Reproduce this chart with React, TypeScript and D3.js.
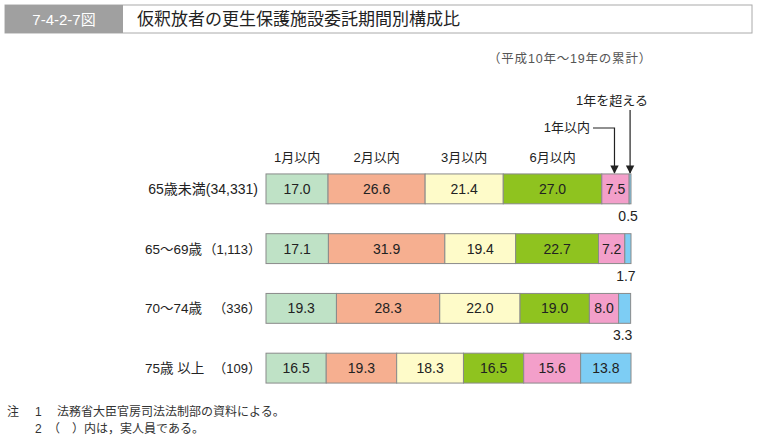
import { useMemo } from "react";
import * as d3 from "d3";

const figNo = "7-4-2-7図";
const title = "仮釈放者の更生保護施設委託期間別構成比";
const subtitle = "（平成10年〜19年の累計）";

const periods = ["1月以内", "2月以内", "3月以内", "6月以内", "1年以内", "1年を超える"];
const colors = ["#bfe2c6", "#f6af90", "#fefbc9", "#8fc31f", "#f39fca", "#7dcdf4"];

const groups = ["65歳未満", "65〜69歳", "70〜74歳", "75歳 以上"];
const counts = ["(34,331)", "（1,113）", "（336）", "（109）"];

const row1 = [17.0, 26.6, 21.4, 27.0, 7.5, 0.5];
const row2 = [17.1, 31.9, 19.4, 22.7, 7.2, 1.7];
const row3 = [19.3, 28.3, 22.0, 19.0, 8.0, 3.3];
const row4 = [16.5, 19.3, 18.3, 16.5, 15.6, 13.8];
const rows = [row1, row2, row3, row4];

const notes = ["法務省大臣官房司法法制部の資料による。", "（　）内は，実人員である。"];

const W = 758;
const H = 441;
const font = "'Liberation Sans', 'Noto Sans CJK JP', sans-serif";

export default function App() {
  const x = useMemo(() => d3.scaleLinear().domain([0, 100]).range([266, 631]), []);
  const y = useMemo(
    () => d3.scaleBand<number>().domain(d3.range(rows.length)).range([159, 398]).paddingInner(0.5).paddingOuter(0.25),
    []
  );
  const bh = y.bandwidth();

  const stacks = rows.map((r) => {
    let acc = 0;
    return r.map((v) => {
      const s = acc;
      acc += v;
      return [s, acc];
    });
  });

  // arrows for the two small categories, top row
  const seg5 = stacks[0][4];
  const seg6 = stacks[0][5];
  const ax5 = (x(seg5[0]) + x(seg5[1])) / 2 - 1;
  const ax6 = (x(seg6[0]) + x(seg6[1])) / 2;
  const barTop = y(0)!;

  return (
    <svg width={W} height={H} style={{ position: "absolute", left: 0, top: 0, background: "#fff" }} fontFamily={font}>
      <defs>
        <marker id="ah" viewBox="0 0 10 10" refX="9" refY="5" markerWidth="7" markerHeight="9" orient="auto">
          <path d="M0,0 L10,5 L0,10 z" fill="#222" />
        </marker>
      </defs>

      {/* header */}
      <rect x={5} y={5} width={747} height={28} fill="#fff" stroke="#aaa" strokeWidth={1} />
      <rect x={5} y={5} width={118} height={28} fill="#a0a0a0" />
      <text x={64} y={25} textAnchor="middle" fill="#fff" fontSize={15}>
        {figNo}
      </text>
      <text x={137} y={25} fill="#222" fontSize={17}>
        {title}
      </text>
      <text x={652} y={63} textAnchor="end" fill="#555" fontSize={12.5} letterSpacing={0.8}>
        {subtitle}
      </text>

      {/* period labels above top row */}
      {periods.slice(0, 4).map((p, i) => (
        <text
          key={p}
          x={(x(stacks[0][i][0]) + x(stacks[0][i][1])) / 2}
          y={162}
          textAnchor="middle"
          fontSize={13}
          fill="#222"
        >
          {p}
        </text>
      ))}
      <text x={590} y={132} textAnchor="end" fontSize={13} fill="#222">
        {periods[4]}
      </text>
      <path
        d={`M593,128 H${ax5} V${barTop - 1}`}
        fill="none"
        stroke="#222"
        strokeWidth={1.2}
        markerEnd="url(#ah)"
      />
      <text x={612} y={105} textAnchor="middle" fontSize={13} fill="#222">
        {periods[5]}
      </text>
      <path d={`M${ax6},110 V${barTop - 1}`} fill="none" stroke="#222" strokeWidth={1.2} markerEnd="url(#ah)" />

      {rows.map((r, ri) => {
        const yy = y(ri)!;
        return (
          <g key={ri}>
            {ri === 0 ? (
              <text x={258} y={yy + bh / 2 + 5} textAnchor="end" fontSize={14} fill="#222">
                {groups[ri] + counts[ri]}
              </text>
            ) : (
              <>
                <text x={145} y={yy + bh / 2 + 5} fontSize={13.5} fill="#222">
                  {groups[ri]}
                </text>
                <text x={261} y={yy + bh / 2 + 5} textAnchor="end" fontSize={13} fill="#222">
                  {counts[ri]}
                </text>
              </>
            )}
            {r.map((v, i) => {
              const [s, e] = stacks[ri][i];
              const x0 = x(s);
              const x1 = x(e);
              const wide = x1 - x0 > 20;
              return (
                <g key={i}>
                  <rect x={x0} y={yy} width={x1 - x0} height={bh} fill={colors[i]} stroke="#8a8a8a" strokeWidth={1} />
                  {wide ? (
                    <text x={(x0 + x1) / 2} y={yy + bh / 2 + 5} textAnchor="middle" fontSize={14} fill="#222">
                      {v.toFixed(1)}
                    </text>
                  ) : (
                    <text x={(x0 + x1) / 2 - 2} y={yy + bh + 17} textAnchor="middle" fontSize={14} fill="#222">
                      {v.toFixed(1)}
                    </text>
                  )}
                </g>
              );
            })}
          </g>
        );
      })}

      {/* notes */}
      <text x={7} y={416} fontSize={12} fill="#333">
        注
      </text>
      {notes.map((n, i) => (
        <g key={i}>
          <text x={35} y={416 + i * 17} fontSize={12} fill="#333">
            {i + 1}
          </text>
          <text x={i === 0 ? 57 : 48} y={416 + i * 17} fontSize={12} fill="#333">
            {n}
          </text>
        </g>
      ))}
    </svg>
  );
}
